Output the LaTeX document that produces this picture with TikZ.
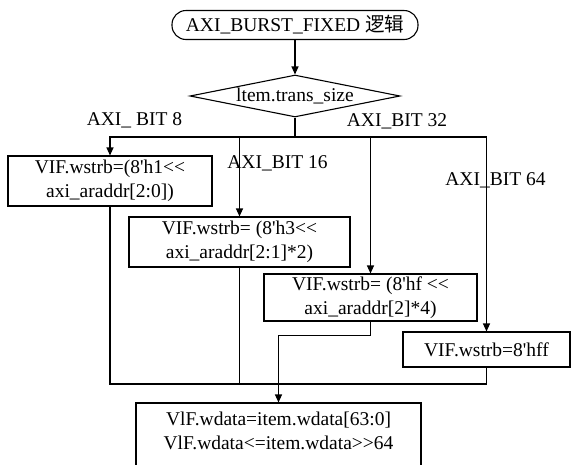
\documentclass[tikz,border=0pt]{standalone}
\usepackage{fontspec}
\setmainfont[Ligatures=TeXOff]{Liberation Serif}
\newfontfamily\cjk{Noto Sans CJK SC}
\usetikzlibrary{arrows.meta,shapes.geometric}
\tikzset{
    % Basic process box
    procbox/.style={
        rectangle, draw=black, fill=white, align=center,
        inner sep=0pt, line width=1.1pt,
        font=\fontsize{19.5}{24}\selectfont
    },
    % Start terminal (rounded ends)
    termbox/.style={
        procbox, rounded corners=14pt
    },
    % Decision diamond
    decbox/.style={
        diamond, draw=black, fill=white, aspect=5,
        inner sep=0pt, line width=1.1pt,
        font=\fontsize{19.5}{24}\selectfont
    },
    % Branch labels
    caselabel/.style={
        inner sep=0pt, font=\fontsize{19.5}{24}\selectfont
    }
}
\tikzset{
    % Connector styles
    flowline/.style={line width=1.1pt, black},
    flowarrow/.style={flowline, -{Triangle[length=8pt,width=7pt]}}
}
\begin{document}
\begin{tikzpicture}[x=1pt,y=-1pt]
  \useasboundingbox[fill=white] (0,0) rectangle (571,464);
  \node[termbox,minimum width=246pt,minimum height=29pt] (start) at (295,25)
    {AXI\_BURST\_FIXED {\cjk 逻辑}};
  \node[decbox,minimum width=210pt,minimum height=42pt] (size) at (295,96)
    {ltem.trans\_size};
  \node[procbox,minimum width=204pt,minimum height=50pt] (b8) at (110,181)
    {VIF.wstrb=(8'h1<<\\axi\_araddr[2:0])};
  \node[procbox,minimum width=221pt,minimum height=50pt] (b16) at (239.5,242)
    {VIF.wstrb= (8'h3<<\\axi\_araddr[2:1]*2)};
  \node[procbox,minimum width=213pt,minimum height=47pt] (b32) at (370.5,297.5)
    {VIF.wstrb= (8'hf <<\\axi\_araddr[2]*4)};
  \node[procbox,minimum width=167pt,minimum height=35pt] (b64) at (486.5,349.5)
    {VIF.wstrb=8'hff};
  \node[procbox] (out) at (278.5,437)
    {\parbox[c][68pt][t]{285pt}{\centering\vspace*{9pt}%
     VlF.wdata=item.wdata[63:0]\\VlF.wdata<=item.wdata>>64}};
  % branch labels
  \node[caselabel] (l8) at (134.5,120) {AXI\_ BIT 8};
  \node[caselabel] (l16) at (277.5,163) {AXI\_BIT 16};
  \node[caselabel] (l32) at (397,121) {AXI\_BIT 32};
  \node[caselabel] (l64) at (495.5,180) {AXI\_BIT 64};
  \coordinate (split) at (295,137);
  \coordinate (join) at (278,384);
  \draw[flowarrow] (start) -- (size);
  \draw[flowline] (size.south) -- (split);
  \draw[flowarrow] (split) -| (b8.north);
  \draw[flowarrow] (split) -| (b16.north);
  \draw[flowarrow] (split) -| (b32.north);
  \draw[flowarrow] (split) -| (b64.north);
  \draw[flowline] (b8.south) |- (join);
  \draw[flowline] (b64.south) |- (join);
  \draw[flowline] (b16.south) -- (b16.south |- join);
  \draw[flowarrow] (b32.south) -- ++(0,14) -| (out.north);
\end{tikzpicture}
\end{document}
